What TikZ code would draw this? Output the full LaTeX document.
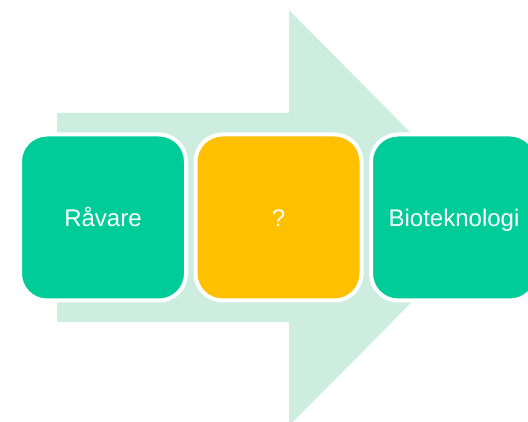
\documentclass[tikz,border=0pt]{standalone}
\usepackage{fontspec}
\setmainfont{Liberation Sans}
\definecolor{arrowc}{HTML}{CCEDE0}
\definecolor{boxg}{HTML}{00CC99}
\definecolor{boxo}{HTML}{FFC000}
\begin{document}
\begin{tikzpicture}[x=1pt,y=-1pt,
  stage/.style={draw=white, line width=4pt, rounded corners=27pt,
    minimum width=166pt, minimum height=166pt, inner sep=0pt,
    text=white, font=\fontsize{24}{28}\selectfont,
    text height=17.2pt, text depth=0pt}]
\useasboundingbox (0,0) rectangle (528,422);
\clip (0,0) rectangle (528,422);
\fill[arrowc] (57,113) -- (289,113) -- (289,10) -- (495,218) -- (289,426)
  -- (289,322) -- (57,322) -- cycle;
\node[stage, fill=boxg] (a) at (103,217.5) {Råvare};
\node[stage, fill=boxo] (b) at (278.5,217.5) {?};
\node[stage, fill=boxg] (c) at (454,217.5) {Bioteknologi};
\end{tikzpicture}
\end{document}
